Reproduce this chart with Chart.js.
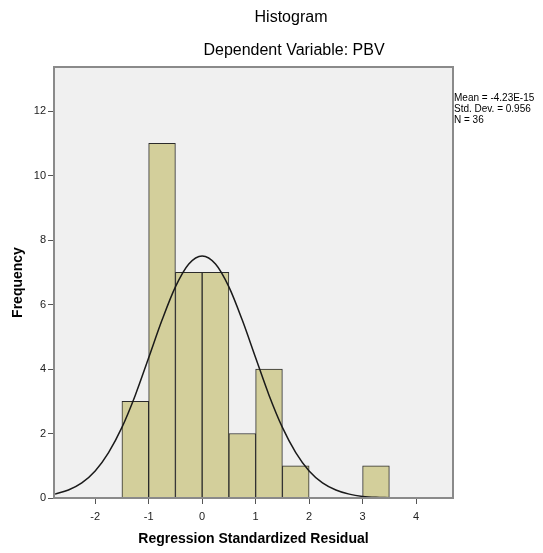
<!DOCTYPE html>
<html>
<head>
<meta charset="utf-8">
<script src="https://cdn.jsdelivr.net/npm/chart.js@4/dist/chart.umd.min.js"></script>
<style>
  html, body { margin: 0; padding: 0; background: #fff; }
  #wrap { width: 543px; height: 553px; }
</style>
</head>
<body>
<div id="wrap"><canvas id="hist" width="543" height="553"></canvas></div>
<script>
////////// Histogram - Regression Standardized Residual

// Data
const binCenters = [-1.25, -0.75, -0.25, 0.25, 0.75, 1.25, 1.75, 3.25];
const binCounts = [3, 11, 7, 7, 2, 4, 1, 1];

// normal curve
const curveX = [-2.75, -2.5, -2.25, -2, -1.75, -1.5, -1.25, -1, -0.75, -0.5, -0.25, 0,
  0.25, 0.5, 0.75, 1, 1.25, 1.5, 1.75, 2, 2.25, 2.5, 2.75, 3, 3.25, 3.5, 3.75, 4, 4.25, 4.5, 4.75];
const curveY = [0.12, 0.25, 0.47, 0.84, 1.41, 2.19, 3.19, 4.35, 5.52, 6.55, 7.26, 7.51,
  7.26, 6.55, 5.52, 4.35, 3.19, 2.19, 1.41, 0.84, 0.47, 0.25, 0.12, 0.05, 0.02, 0.01, 0, 0, 0, 0, 0];

const xTicks = [-2, -1, 0, 1, 2, 3, 4];
const yTicks = [0, 2, 4, 6, 8, 10, 12];

const statsLines = ["Mean = -4.23E-15", "Std. Dev. = 0.956", "N = 36"];

const FONT = "'Liberation Sans', Arial, sans-serif";

const frame = {
  id: "frame",
  beforeDatasetsDraw(chart) {
    const { ctx, chartArea: a } = chart;
    ctx.save();
    ctx.fillStyle = "#f0f0f0";
    ctx.fillRect(a.left, a.top, a.right - a.left, a.bottom - a.top);
    ctx.restore();
  },
  afterDraw(chart) {
    const { ctx, chartArea: a } = chart;
    ctx.save();
    ctx.strokeStyle = "#8a8a8a";
    ctx.lineWidth = 2;
    ctx.strokeRect(a.left, a.top, a.right - a.left, a.bottom - a.top);
    ctx.fillStyle = "#000";
    ctx.textBaseline = "middle";
    ctx.textAlign = "center";
    ctx.font = "16px " + FONT;
    ctx.fillText("Histogram", 291, 18);
    ctx.fillText("Dependent Variable: PBV", 294, 51);
    ctx.textAlign = "left";
    ctx.font = "10px " + FONT;
    statsLines.forEach((t, i) => ctx.fillText(t, 454, 98 + i * 11));
    ctx.restore();
  },
};

const histEl = document.getElementById("hist").getContext("2d");

const histChart = new Chart(histEl, {
  type: "bar",
  data: {
    datasets: [
      {
        type: "line",
        data: curveX.map((x, i) => ({ x: x, y: curveY[i] })),
        borderColor: "#1a1a1a",
        borderWidth: 1.5,
        pointRadius: 0,
        cubicInterpolationMode: "monotone",
        fill: false,
        order: 0,
      },
      {
        type: "bar",
        data: binCenters.map((x, i) => ({ x: x, y: binCounts[i] })),
        backgroundColor: "#d3cf9b",
        borderColor: "#2b2b2b",
        borderWidth: 1,
        barPercentage: 1,
        categoryPercentage: 1,
        grouped: false,
        order: 1,
      },
    ],
  },
  options: {
    responsive: false,
    animation: false,
    layout: { padding: { left: 6, right: 90, top: 67, bottom: 4 } },
    plugins: {
      legend: { display: false },
      tooltip: { enabled: false },
    },
    scales: {
      x: {
        type: "linear",
        min: -2.77,
        max: 4.69,
        offset: false,
        afterFit(scale) { scale.height = 51; },
        afterBuildTicks(scale) { scale.ticks = xTicks.map((v) => ({ value: v })); },
        grid: { offset: false, drawOnChartArea: false, drawTicks: true, tickLength: 6, color: "#555" },
        border: { display: false },
        ticks: { color: "#222", padding: 6, font: { family: FONT, size: 11 } },
        title: {
          display: true,
          text: "Regression Standardized Residual",
          color: "#000",
          padding: { top: 0, bottom: 1 },
          font: { family: FONT, size: 14, weight: "bold" },
        },
      },
      y: {
        min: 0,
        max: 13.37,
        afterFit(scale) { scale.width = 48; },
        afterBuildTicks(scale) { scale.ticks = yTicks.map((v) => ({ value: v })); },
        grid: { drawOnChartArea: false, drawTicks: true, tickLength: 6, color: "#555" },
        border: { display: false },
        ticks: { color: "#222", padding: 2, font: { family: FONT, size: 11 } },
        title: {
          display: true,
          text: "Frequency",
          color: "#000",
          padding: { top: 4, bottom: 0 },
          font: { family: FONT, size: 14, weight: "bold" },
        },
      },
    },
  },
  plugins: [frame],
});
</script>
</body>
</html>
